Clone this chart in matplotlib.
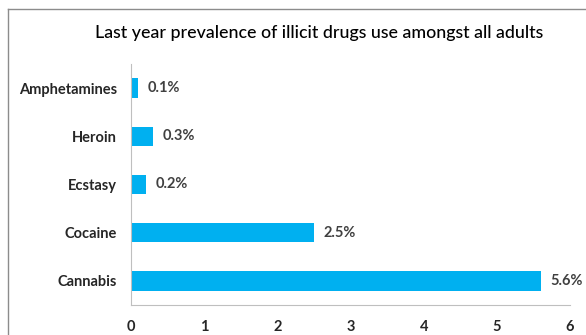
import matplotlib.pyplot as plt
from matplotlib.lines import Line2D

# data
drugs = ['Cannabis', 'Cocaine', 'Ecstasy', 'Heroin', 'Amphetamines']
prevalence = [5.6, 2.5, 0.2, 0.3, 0.1]
xticks = [0, 1, 2, 3, 4, 5, 6]

plt.rcParams['font.family'] = ['Lato', 'DejaVu Sans']

fig = plt.figure(figsize=(5.86, 3.35), dpi=100)
ax = fig.add_axes([131 / 586, 1 - 305 / 335, 439 / 586, 241 / 335])

ax.barh(range(len(drugs)), prevalence, height=0.4, color='#00B0F0')
for i, v in enumerate(prevalence):
    ax.text(v + 0.13, i, '%.1f%%' % v, va='center', ha='left',
            fontsize=10.5, fontweight='bold', color='#404040')

ax.set_xlim(0, 6)
ax.set_ylim(-0.5, len(drugs) - 0.5)
ax.set_yticks(range(len(drugs)))
ax.set_yticklabels(drugs, fontsize=10.5, fontweight='bold', color='#262626')
ax.set_xticks(xticks)
ax.set_xticklabels([str(t) for t in xticks], fontsize=10.5, fontweight='bold',
                   color='#262626')
ax.tick_params(length=0, pad=10)
ax.tick_params(axis='x', pad=11)
for s in ['top', 'right']:
    ax.spines[s].set_visible(False)
for s in ['left', 'bottom']:
    ax.spines[s].set_color('#BFBFBF')

fig.text(319 / 586, 1 - 33 / 335, 'Last year prevalence of illicit drugs use amongst all adults',
         ha='center', va='center', fontsize=12.8, fontweight='medium', color='#000000')

# outer chart frame
fig.add_artist(Line2D([8 / 586, 8 / 586], [0, 1 - 9 / 335], transform=fig.transFigure,
                      color='#8c8c8c', lw=1))
fig.add_artist(Line2D([8 / 586, 1], [1 - 9 / 335, 1 - 9 / 335], transform=fig.transFigure,
                      color='#8c8c8c', lw=1))

fig.savefig('out.png', dpi=100)
